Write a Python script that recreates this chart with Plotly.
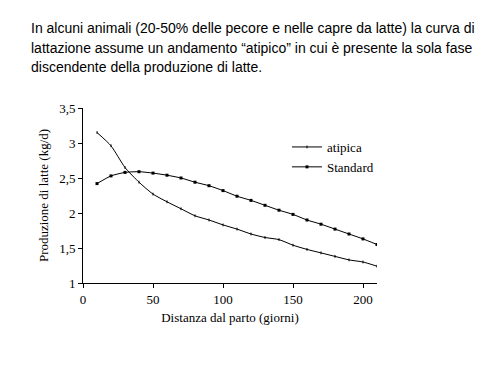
import plotly.graph_objects as go

days = [10, 20, 30, 40, 50, 60, 70, 80, 90, 100, 110, 120, 130, 140, 150, 160, 170, 180, 190, 200, 210]
atipica = [3.15, 2.96, 2.65, 2.44, 2.27, 2.16, 2.06, 1.96, 1.90, 1.83, 1.77, 1.70, 1.65, 1.62, 1.54, 1.48, 1.43, 1.38, 1.33, 1.30, 1.24]
standard = [2.42, 2.53, 2.58, 2.59, 2.57, 2.54, 2.50, 2.44, 2.39, 2.32, 2.24, 2.18, 2.11, 2.04, 1.98, 1.90, 1.84, 1.77, 1.70, 1.63, 1.55]
x_ticks = [0, 50, 100, 150, 200]
y_ticks = [1, 1.5, 2, 2.5, 3, 3.5]
y_tick_labels = ["1", "1,5", "2", "2,5", "3", "3,5"]
intro_lines = [
    "In alcuni animali (20-50% delle pecore e nelle capre da latte) la curva di",
    "lattazione assume un andamento “atipico” in cui è presente la sola fase",
    "discendente della produzione di latte.",
]

OFF = 8  # page body margin
L, R, T, B = 83 - OFF, 377 - OFF, 108 - OFF, 283 - OFF
W, H = 500 - OFF, 374 - OFF

fig = go.Figure()
fig.add_trace(go.Scatter(x=days, y=atipica, name="atipica", mode="lines+markers",
                         line=dict(color="black", width=1, shape="spline", smoothing=0.6),
                         marker=dict(symbol="line-ns", size=2, color="black", line=dict(width=1, color="black"))))
fig.add_trace(go.Scatter(x=days, y=standard, name="Standard", mode="lines+markers",
                         line=dict(color="black", width=1, shape="spline", smoothing=0.6),
                         marker=dict(symbol="square", size=3, color="black")))

fig.update_layout(
    width=W, height=H,
    margin=dict(l=L, r=W - R, t=T, b=H - B, pad=0),
    paper_bgcolor="white", plot_bgcolor="white",
    font=dict(family="Liberation Serif, Times New Roman, serif", size=13, color="black"),
    showlegend=True,
    legend=dict(x=(287 - OFF - L) / (R - L), y=(B - (132 - OFF)) / (B - T), xanchor="left", yanchor="top",
                bgcolor="rgba(0,0,0,0)", font=dict(size=13, family="Liberation Serif, serif"),
                itemwidth=30, tracegroupgap=0),
    xaxis=dict(range=[0, 210], tickvals=x_ticks, showgrid=False, zeroline=False,
               showline=True, linecolor="black", linewidth=1, ticks="outside", ticklen=4,
               tickcolor="black",
               title=dict(text="Distanza dal parto (giorni)", font=dict(size=13), standoff=7)),
    yaxis=dict(range=[1, 3.5], tickvals=y_ticks, ticktext=y_tick_labels, showgrid=False,
               zeroline=False, showline=True, linecolor="black", linewidth=1, ticks="outside",
               ticklen=4, tickcolor="black",
               title=dict(text="Produzione di latte (kg/d)", font=dict(size=13), standoff=7)),
)

line_y = [28, 48, 67]
for txt, py in zip(intro_lines, line_y):
    fig.add_annotation(text=txt, xref="paper", yref="paper",
                       x=(29 - OFF - L) / (R - L), y=(B - (py - OFF)) / (B - T),
                       xanchor="left", yanchor="middle", showarrow=False,
                       font=dict(family="Liberation Sans, Arial, sans-serif", size=14, color="black"))

fig.write_html("out.html")
